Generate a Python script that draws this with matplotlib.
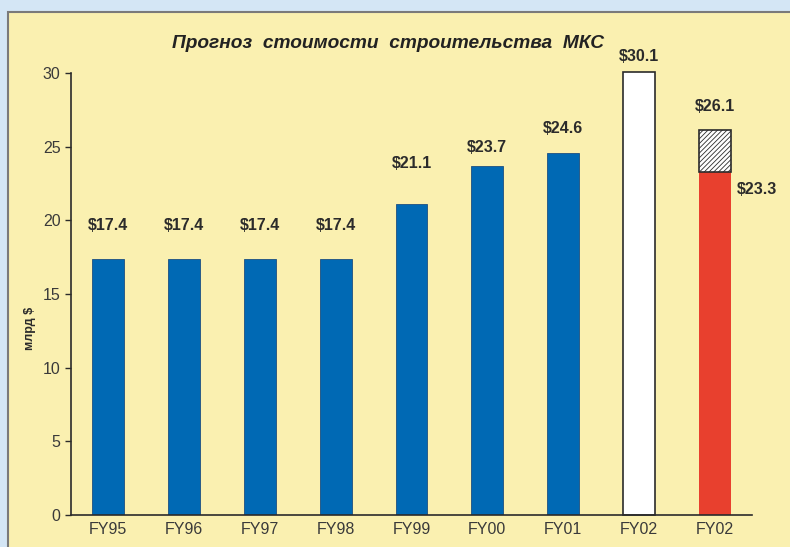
import matplotlib
matplotlib.use("Agg")
import matplotlib.pyplot as plt
from matplotlib.patches import Rectangle
import numpy as np

# %%
years = ["FY95", "FY96", "FY97", "FY98", "FY99", "FY00", "FY01", "FY02", "FY02"]
blue_values = [17.4, 17.4, 17.4, 17.4, 21.1, 23.7, 24.6]
white_value = 30.1
red_value = 23.3
total_value = 26.1
labels = ["$17.4", "$17.4", "$17.4", "$17.4", "$21.1", "$23.7", "$24.6", "$30.1", "$26.1"]

plt.rcParams["font.family"] = ["Liberation Sans", "DejaVu Sans"]
plt.rcParams["hatch.linewidth"] = 0.6
plt.rcParams["hatch.color"] = "#444444"
dark = "#2b2b2b"

# %%
fig = plt.figure(figsize=(7.9, 5.47), dpi=100)
fig.patch.set_facecolor("#d4e6f5")
fig.patches.append(
    Rectangle((8 / 790, -0.05), 1.0, 1 - 12 / 547 + 0.05, transform=fig.transFigure,
              facecolor="#faf0b0", edgecolor="#7a7a7a", linewidth=1.5, zorder=-5)
)

ax = fig.add_axes([71 / 790, 32 / 547, (752 - 71) / 790, 442 / 547])
ax.set_facecolor("none")

x = np.arange(len(years))
w = 0.42
ax.bar(x[:7], blue_values, width=w, color="#0069b4", edgecolor="#1d4f80", linewidth=0.6)
ax.bar(x[7], white_value, width=w, color="white", edgecolor=dark, linewidth=1.2, clip_on=False)
ax.bar(x[8], red_value, width=w, color="#e8402e", linewidth=0)
ax.bar(x[8], total_value - red_value, bottom=red_value, width=w, color="white",
       edgecolor=dark, linewidth=1.2, hatch="///////")

# label gaps above bar tops, in data units (hand placed like the original)
gaps = [2.24, 2.24, 2.24, 2.24, 2.78, 1.22, 1.63, 1.02, 1.63]
for i, v in enumerate(blue_values + [white_value, total_value]):
    ax.text(x[i], v + gaps[i], labels[i], ha="center", va="center", fontsize=11.5,
            fontweight="bold", color=dark, clip_on=False)
ax.text(x[8] + 0.29, red_value - 1.2, f"${red_value}", ha="left", va="center",
        fontsize=11.5, fontweight="bold", color=dark)

ax.set_xlim(-0.49, 8.49)
ax.set_ylim(0, 30)
ax.set_yticks(range(0, 31, 5))
ax.set_xticks(x)
ax.set_xticklabels(years)
ax.tick_params(axis="both", colors=dark, labelcolor="#3a3a3a", labelsize=11.5, length=4, width=1)
ax.tick_params(axis="x", length=0, pad=5)
for side in ["top", "right"]:
    ax.spines[side].set_visible(False)
for side in ["left", "bottom"]:
    ax.spines[side].set_color(dark)
    ax.spines[side].set_linewidth(1.2)

fig.text(30 / 790, 1 - 328 / 547, "млрд $", rotation=90, ha="center", va="center",
         fontsize=9, fontweight="bold", color=dark)
fig.text(388 / 790, 1 - 43 / 547, "Прогноз  стоимости  строительства  МКС", ha="center",
         va="center", fontsize=13.8, fontweight="bold", fontstyle="italic", color="#222222")

plt.savefig("out.png", dpi=100, facecolor=fig.get_facecolor())
